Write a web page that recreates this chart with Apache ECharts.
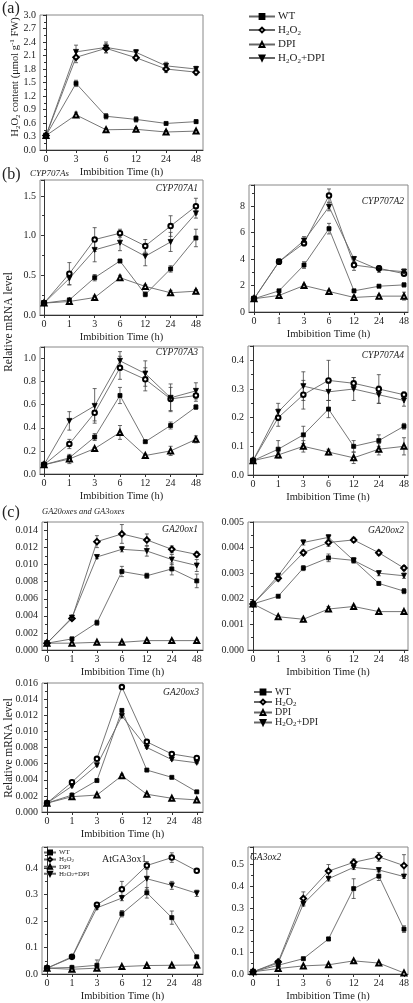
<!DOCTYPE html>
<html><head><meta charset="utf-8">
<script src="https://cdn.jsdelivr.net/npm/echarts@6/dist/echarts.min.js"></script>
<style>html,body{margin:0;padding:0;background:#fff}#c{width:413px;height:1003px}</style>
</head><body><div id="c"></div>
<script>
// ---------------- DATA ----------------
const timeA = ['0','3','6','12','24','48'];
const timeBC = ['0','1','3','6','12','24','48'];
const seriesNames = ['WT','H2O2','DPI','H2O2+DPI'];

// (a) H2O2 content
const a_WT = [0.32,1.48,0.75,0.68,0.59,0.63];
const a_WT_err = [0.02,0.07,0.06,0.06,0.02,0.04];
const a_H2O2 = [0.32,2.06,2.26,2.05,1.80,1.73];
const a_H2O2_err = [0.02,0.12,0.10,0.06,0.08,0.06];
const a_DPI = [0.32,0.78,0.45,0.46,0.40,0.42];
const a_DPI_err = [0.02,0.06,0.03,0.04,0.03,0.02];
const a_HD = [0.32,2.18,2.28,2.17,1.87,1.80];
const a_HD_err = [0.02,0.15,0.12,0.06,0.08,0.06];

// CYP707A1
const A1_WT = [0.15,0.19,0.47,0.68,0.26,0.58,0.97];
const A1_WT_err = [0.01,0.02,0.04,0.02,0.03,0.04,0.11];
const A1_H2O2 = [0.15,0.52,0.95,1.03,0.87,1.12,1.37];
const A1_H2O2_err = [0.01,0.14,0.15,0.05,0.08,0.13,0.10];
const A1_DPI = [0.15,0.17,0.22,0.47,0.36,0.28,0.30];
const A1_DPI_err = [0.01,0.01,0.02,0.03,0.02,0.03,0.02];
const A1_HD = [0.15,0.46,0.82,0.91,0.74,0.92,1.28];
const A1_HD_err = [0.01,0.08,0.15,0.10,0.12,0.12,0.06];

// CYP707A2
const A2_WT = [1.0,1.6,3.55,6.3,1.6,1.95,2.05];
const A2_WT_err = [0.05,0.1,0.25,0.4,0.1,0.1,0.15];
const A2_H2O2 = [1.0,3.8,5.2,8.8,3.55,3.3,2.9];
const A2_H2O2_err = [0.05,0.2,0.2,0.5,0.4,0.2,0.15];
const A2_DPI = [1.0,1.25,2.0,1.55,1.1,1.2,1.2];
const A2_DPI_err = [0.05,0.1,0.1,0.1,0.1,0.1,0.3];
const A2_HD = [1.0,3.8,5.4,7.95,4.0,3.2,3.05];
const A2_HD_err = [0.05,0.2,0.3,0.3,0.2,0.2,0.2];

// CYP707A3
const A3_WT = [0.08,0.14,0.32,0.68,0.28,0.42,0.58];
const A3_WT_err = [0.01,0.02,0.03,0.07,0.01,0.03,0.02];
const A3_H2O2 = [0.08,0.26,0.53,0.92,0.82,0.65,0.68];
const A3_H2O2_err = [0.01,0.04,0.07,0.10,0.10,0.10,0.05];
const A3_DPI = [0.08,0.13,0.22,0.36,0.16,0.20,0.30];
const A3_DPI_err = [0.01,0.04,0.01,0.06,0.01,0.04,0.03];
const A3_HD = [0.08,0.46,0.59,0.98,0.87,0.66,0.72];
const A3_HD_err = [0.01,0.08,0.15,0.08,0.11,0.12,0.07];

// CYP707A4
const A4_WT = [0.05,0.09,0.14,0.23,0.10,0.12,0.17];
const A4_WT_err = [0.003,0.03,0.03,0.03,0.02,0.02,0.01];
const A4_H2O2 = [0.05,0.20,0.28,0.33,0.32,0.30,0.28];
const A4_H2O2_err = [0.003,0.03,0.05,0.07,0.02,0.05,0.01];
const A4_DPI = [0.05,0.07,0.10,0.08,0.06,0.09,0.10];
const A4_DPI_err = [0.003,0.01,0.02,0.01,0.02,0.02,0.03];
const A4_HD = [0.05,0.22,0.31,0.29,0.30,0.28,0.26];
const A4_HD_err = [0.003,0.03,0.05,0.03,0.04,0.03,0.02];

// GA20ox1
const G1_WT = [0.0008,0.0013,0.0032,0.0092,0.0087,0.0095,0.0081];
const G1_WT_err = [0.0001,0.0002,0.0003,0.0006,0.0003,0.0007,0.0008];
const G1_H2O2 = [0.0008,0.0037,0.0127,0.0136,0.0129,0.0118,0.0112];
const G1_H2O2_err = [0.0001,0.0002,0.0007,0.0011,0.0007,0.0004,0.0003];
const G1_DPI = [0.0008,0.0008,0.0009,0.0009,0.0011,0.0011,0.0011];
const G1_DPI_err = [0.0001,0.0001,0.0001,0.0001,0.0001,0.0001,0.0001];
const G1_HD = [0.0008,0.0038,0.0109,0.0118,0.0116,0.0106,0.0099];
const G1_HD_err = [0.0001,0.0002,0.0002,0.0003,0.0006,0.0006,0.0007];

// GA20ox2
const G2_WT = [0.0018,0.0021,0.0032,0.0036,0.0035,0.0026,0.0023];
const G2_WT_err = [0.0001,0.00005,0.0001,0.00015,0.0001,0.00005,0.0001];
const G2_H2O2 = [0.0018,0.0028,0.0038,0.0042,0.0043,0.0038,0.0032];
const G2_H2O2_err = [0.0001,0.0001,0.0001,0.00015,0.0001,0.0001,0.0001];
const G2_DPI = [0.0018,0.0013,0.0012,0.0016,0.0017,0.0015,0.0015];
const G2_DPI_err = [0.0001,0.00005,0.00005,0.0001,0.00005,0.00005,0.00005];
const G2_HD = [0.0018,0.0029,0.0042,0.0044,0.0035,0.0030,0.0029];
const G2_HD_err = [0.0001,0.00005,0.0001,0.0001,0.0001,0.0001,0.0001];

// GA20ox3
const G3_WT = [0.0011,0.0021,0.0039,0.0126,0.0052,0.0043,0.0025];
const G3_WT_err = [0.0001,0.0001,0.0001,0.0002,0.0001,0.0001,0.0001];
const G3_H2O2 = [0.0011,0.0037,0.0066,0.0155,0.0087,0.0072,0.0067];
const G3_H2O2_err = [0.0001,0.0001,0.0001,0.0002,0.0001,0.0002,0.0001];
const G3_DPI = [0.0011,0.0019,0.0021,0.0045,0.0022,0.0017,0.0015];
const G3_DPI_err = [0.0001,0.0001,0.0001,0.0002,0.0001,0.0001,0.0001];
const G3_HD = [0.0011,0.0032,0.0058,0.0119,0.0080,0.0065,0.0061];
const G3_HD_err = [0.0001,0.0001,0.0001,0.0002,0.0001,0.0001,0.0001];

// AtGA3ox1
const H1_WT = [0.022,0.025,0.033,0.228,0.307,0.213,0.065];
const H1_WT_err = [0.002,0.003,0.02,0.012,0.02,0.025,0.004];
const H1_H2O2 = [0.022,0.065,0.262,0.32,0.41,0.44,0.39];
const H1_H2O2_err = [0.002,0.004,0.005,0.03,0.015,0.018,0.005];
const H1_DPI = [0.022,0.018,0.022,0.028,0.032,0.033,0.034];
const H1_DPI_err = [0.002,0.002,0.002,0.002,0.002,0.002,0.002];
const H1_HD = [0.022,0.062,0.25,0.287,0.36,0.335,0.305];
const H1_HD_err = [0.002,0.004,0.005,0.01,0.04,0.015,0.012];

// GA3ox2
const H2_WT = [0.01,0.04,0.07,0.16,0.39,0.447,0.205];
const H2_WT_err = [0.003,0.004,0.005,0.008,0.045,0.02,0.015];
const H2_H2O2 = [0.01,0.055,0.345,0.47,0.51,0.535,0.495];
const H2_H2O2_err = [0.003,0.005,0.03,0.03,0.015,0.02,0.05];
const H2_DPI = [0.01,0.025,0.037,0.042,0.06,0.05,0.005];
const H2_DPI_err = [0.003,0.003,0.003,0.003,0.003,0.003,0.003];
const H2_HD = [0.01,0.05,0.32,0.435,0.487,0.475,0.445];
const H2_HD_err = [0.003,0.004,0.01,0.01,0.01,0.008,0.008];

// ---------------- PANELS ----------------
const panels = [
  {cats: timeA, vals:[a_WT,a_H2O2,a_DPI,a_HD], errs:[a_WT_err,a_H2O2_err,a_DPI_err,a_HD_err], max:3.0, interval:0.3, dec:1, showMax:true, h2o2:'emptyDiamond'},
  {cats: timeBC, vals:[A1_WT,A1_H2O2,A1_DPI,A1_HD], errs:[A1_WT_err,A1_H2O2_err,A1_DPI_err,A1_HD_err], max:1.7, interval:0.5, dec:1, showMax:false, h2o2:'emptyCircle'},
  {cats: timeBC, vals:[A2_WT,A2_H2O2,A2_DPI,A2_HD], errs:[A2_WT_err,A2_H2O2_err,A2_DPI_err,A2_HD_err], max:9.6, interval:2, dec:0, showMax:false, h2o2:'emptyCircle'},
  {cats: timeBC, vals:[A3_WT,A3_H2O2,A3_DPI,A3_HD], errs:[A3_WT_err,A3_H2O2_err,A3_DPI_err,A3_HD_err], max:1.1, interval:0.2, dec:1, showMax:false, h2o2:'emptyCircle'},
  {cats: timeBC, vals:[A4_WT,A4_H2O2,A4_DPI,A4_HD], errs:[A4_WT_err,A4_H2O2_err,A4_DPI_err,A4_HD_err], max:0.45, interval:0.1, dec:1, showMax:false, h2o2:'emptyCircle'},
  {cats: timeBC, vals:[G1_WT,G1_H2O2,G1_DPI,G1_HD], errs:[G1_WT_err,G1_H2O2_err,G1_DPI_err,G1_HD_err], max:0.015, interval:0.002, dec:3, showMax:false, h2o2:'emptyDiamond'},
  {cats: timeBC, vals:[G2_WT,G2_H2O2,G2_DPI,G2_HD], errs:[G2_WT_err,G2_H2O2_err,G2_DPI_err,G2_HD_err], max:0.005, interval:0.001, dec:3, showMax:true, h2o2:'emptyDiamond'},
  {cats: timeBC, vals:[G3_WT,G3_H2O2,G3_DPI,G3_HD], errs:[G3_WT_err,G3_H2O2_err,G3_DPI_err,G3_HD_err], max:0.016, interval:0.002, dec:3, showMax:true, h2o2:'emptyCircle'},
  {cats: timeBC, vals:[H1_WT,H1_H2O2,H1_DPI,H1_HD], errs:[H1_WT_err,H1_H2O2_err,H1_DPI_err,H1_HD_err], max:0.48, interval:0.1, dec:1, showMax:false, h2o2:'emptyCircle'},
  {cats: timeBC, vals:[H2_WT,H2_H2O2,H2_DPI,H2_HD], errs:[H2_WT_err,H2_H2O2_err,H2_DPI_err,H2_HD_err], max:0.58, interval:0.1, dec:1, showMax:false, h2o2:'emptyDiamond'}
];
// layout (pixels)
const layout = [
  {left:40, top:15, width:163, height:135, xmin:-0.2, xmax:5.23},
  {left:40, top:180, width:163, height:135, xmin:-0.16, xmax:6.28},
  {left:249, top:185, width:159, height:127, xmin:-0.2, xmax:6.16},
  {left:40, top:347, width:163, height:127, xmin:-0.16, xmax:6.28},
  {left:248, top:346, width:160, height:129, xmin:-0.2, xmax:6.16},
  {left:42, top:522, width:161, height:128, xmin:-0.2, xmax:6.25},
  {left:248, top:522, width:160, height:128, xmin:-0.2, xmax:6.16},
  {left:42, top:683, width:161, height:129, xmin:-0.2, xmax:6.25},
  {left:42, top:847, width:161, height:129, xmin:-0.2, xmax:6.25},
  {left:248, top:847, width:160, height:129, xmin:-0.2, xmax:6.16}
];

const FONT = 'Liberation Serif';
const LINE = '#666';
const AX = '#333';

const grid = [], xAxis = [], yAxis = [], series = [];
panels.forEach((p, i) => {
  const L = layout[i];
  grid.push({left:L.left, top:L.top, width:L.width, height:L.height, show:true, borderColor:'#888', borderWidth:1, backgroundColor:'transparent'});
  const idx = p.cats.map((c, k) => k);
  xAxis.push({
    type:'value', gridIndex:i, min:L.xmin, max:L.xmax,
    axisLine:{show:true, onZero:false, lineStyle:{color:AX, width:1}},
    splitLine:{show:false},
    axisTick:{show:true, customValues:idx, length:3, lineStyle:{color:AX}},
    axisLabel:{customValues:idx, formatter:(v) => p.cats[Math.round(v)], fontFamily:FONT, fontSize:10, color:'#222', margin:4},
    name:'Imbibition Time (h)', nameLocation:'middle', nameGap:17,
    nameTextStyle:{fontFamily:FONT, fontSize:10.5, color:'#222'}
  });
  yAxis.push({
    type:'value', gridIndex:i, min:0, max:p.max, interval:p.interval,
    axisLine:{show:true, lineStyle:{color:AX, width:1}},
    splitLine:{show:false},
    axisTick:{show:true, length:3, lineStyle:{color:AX}},
    minorTick:{show:true, splitNumber:2, length:2, lineStyle:{color:AX}},
    axisLabel:{formatter:(v) => v.toFixed(p.dec), showMaxLabel:p.showMax, showMinLabel:true, fontFamily:FONT, fontSize:10, color:'#222', margin:4}
  });
  const syms = ['rect', p.h2o2, 'emptyTriangle', 'triangle'];
  const sizes = [4, p.h2o2 === 'emptyCircle' ? 4.5 : 5.5, 5, 5];
  const rots = [0, 0, 0, 180];
  seriesNames.forEach((name, s) => {
    const vals = p.vals[s], errs = p.errs[s];
    series.push({
      type:'custom', name:'err_' + name, xAxisIndex:i, yAxisIndex:i, silent:true, z:1,
      data: vals.map((v, k) => [k, v, errs[k]]),
      renderItem:(params, api) => {
        const x = api.value(0), y = api.value(1), e = api.value(2);
        const t = api.coord([x, y + e]), b = api.coord([x, y - e]);
        const cw = 2, st = {stroke:'#444', lineWidth:0.8};
        return {type:'group', children:[
          {type:'line', shape:{x1:t[0], y1:t[1], x2:b[0], y2:b[1]}, style:st},
          {type:'line', shape:{x1:t[0]-cw, y1:t[1], x2:t[0]+cw, y2:t[1]}, style:st},
          {type:'line', shape:{x1:b[0]-cw, y1:b[1], x2:b[0]+cw, y2:b[1]}, style:st}
        ]};
      }
    });
    series.push({
      type:'line', name:name, xAxisIndex:i, yAxisIndex:i, z:3,
      data: vals.map((v, k) => [k, v]),
      symbol:syms[s], symbolSize:sizes[s], symbolRotate:rots[s], showAllSymbol:true,
      itemStyle:{color:'#000', borderColor:'#000', borderWidth:0.8},
      lineStyle:{color:LINE, width:0.9}, animation:false
    });
  });
});

const legendFmt = (n) => {
  if (n === 'H2O2') return '{a|H}{s|2}{a|O}{s|2}';
  if (n === 'H2O2+DPI') return '{a|H}{s|2}{a|O}{s|2}{a|+DPI}';
  return '{a|' + n + '}';
};
const richFor = (fs, lh) => ({a:{fontFamily:FONT, fontSize:fs, color:'#222', lineHeight:lh},
  s:{fontFamily:FONT, fontSize:Math.round(fs*0.65), color:'#222', lineHeight:Math.round(fs*0.7), verticalAlign:'bottom'}});
const mkLegend = (left, top, iw, ih, gap, fs, lh) => ({
  data: seriesNames, orient:'vertical', left:left, top:top, itemWidth:iw, itemHeight:ih, itemGap:gap,
  selectedMode:false, padding:0, formatter:legendFmt,
  textStyle:{fontFamily:FONT, fontSize:fs, color:'#222', rich:richFor(fs, lh), padding:[0,0,0,-2]}
});

const T = (txt, x, y, fs, opt) => Object.assign({type:'text', x:x, y:y, style:Object.assign({text:txt, fontFamily:FONT, fontSize:fs, fill:'#222', textVerticalAlign:'middle'}, opt||{})});

const option = {
  animation:false,
  backgroundColor:'#fff',
  grid, xAxis, yAxis, series,
  legend:[
    mkLegend(248, 11, 26, 6, 2.5, 11, 13),
    mkLegend(253, 687, 18, 6, 0, 10, 11),
    mkLegend(43, 849, 12, 5, 0, 7, 7.5)
  ],
  graphic:[
    T('(a)', 2, 9, 16),
    T('(b)', 2, 175, 16),
    T('(c)', 2, 513, 16),
    T('CYP707As', 30, 174, 9, {fontStyle:'italic'}),
    T('GA20oxes and GA3oxes', 42, 512, 8.5, {fontStyle:'italic'}),
    T('CYP707A1', 198, 188, 9.5, {fontStyle:'italic', textAlign:'right'}),
    T('CYP707A2', 404, 201, 9.5, {fontStyle:'italic', textAlign:'right'}),
    T('CYP707A3', 198, 352, 9.5, {fontStyle:'italic', textAlign:'right'}),
    T('CYP707A4', 404, 355, 9.5, {fontStyle:'italic', textAlign:'right'}),
    T('GA20ox1', 198, 529, 9.5, {fontStyle:'italic', textAlign:'right'}),
    T('GA20ox2', 404, 530, 9.5, {fontStyle:'italic', textAlign:'right'}),
    T('GA20ox3', 199, 692, 9.5, {fontStyle:'italic', textAlign:'right'}),
    T('AtGA3ox1', 102, 859, 10),
    T('GA3ox2', 250, 857, 9.5, {fontStyle:'italic'}),
    {type:'text', x:9, y:322, rotation:Math.PI/2, style:{text:'Relative mRNA level', fontFamily:FONT, fontSize:11.5, fill:'#222', textAlign:'center', textVerticalAlign:'middle'}},
    {type:'text', x:9, y:748, rotation:Math.PI/2, style:{text:'Relative mRNA level', fontFamily:FONT, fontSize:11.5, fill:'#222', textAlign:'center', textVerticalAlign:'middle'}},
    {type:'text', x:15, y:77, rotation:Math.PI/2, style:{
      text:'{a|H}{s|2}{a|O}{s|2}{a| content (μmol g}{u|-1}{a| FW)}',
      textAlign:'center', textVerticalAlign:'middle',
      rich:{a:{fontFamily:FONT, fontSize:10.5, fill:'#222', lineHeight:13},
            s:{fontFamily:FONT, fontSize:7, fill:'#222', lineHeight:7, verticalAlign:'bottom'},
            u:{fontFamily:FONT, fontSize:7, fill:'#222', lineHeight:7, verticalAlign:'top'}}
    }}
  ]
};

const chart = echarts.init(document.getElementById('c'), null, {renderer:'canvas'});
chart.setOption(option);
</script>
</body></html>
